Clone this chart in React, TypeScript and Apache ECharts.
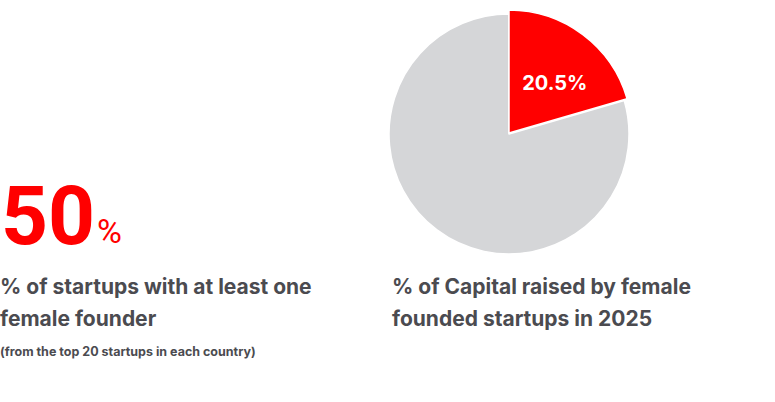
import React, { useEffect, useRef } from "react";
import * as echarts from "echarts";

const sliceNames = ["Female founded", "Other"];
const sliceValues = [20.5, 79.5];
const sliceColors = ["#ff0000", "#d5d6d8"];
const statValue = "50";
const statUnit = "%";
const leftTitleLines = ["% of startups with at least one", "female founder"];
const leftNote = "(from the top 20 startups in each country)";
const rightTitleLines = ["% of Capital raised by female", "founded startups in 2025"];

const FONT = "Inter, Roboto, sans-serif";
const BIG_FONT = "Roboto, Inter, sans-serif";
const TEXT_COLOR = "#4b4b50";

export default function App() {
  const ref = useRef<HTMLDivElement>(null);
  useEffect(() => {
    document.body.style.margin = "0";
    const chart = echarts.init(ref.current!, null, { renderer: "svg" });
    const data = sliceNames.map((n, i) => ({ name: n, value: sliceValues[i] }));
    chart.setOption({
      animation: false,
      backgroundColor: "#ffffff",
      series: [
        {
          type: "pie",
          center: [509, 134],
          radius: [0, 120],
          startAngle: 90,
          clockwise: true,
          silent: true,
          label: { show: false },
          labelLine: { show: false },
          itemStyle: { borderColor: "#ffffff", borderWidth: 1.5 },
          data: data.map((d, i) => ({ ...d, itemStyle: { color: sliceColors[i] } })),
        },
        {
          type: "pie",
          center: [509, 133],
          radius: [0, 123],
          startAngle: 90,
          clockwise: true,
          silent: true,
          label: { show: false },
          labelLine: { show: false },
          itemStyle: { borderColor: "#ffffff", borderWidth: 1.5 },
          data: data.map((d, i) => ({
            ...d,
            itemStyle:
              i === 0
                ? { color: sliceColors[0] }
                : { color: "rgba(0,0,0,0)", borderColor: "rgba(0,0,0,0)" },
          })),
        },
        {
          type: "pie",
          center: [509, 134],
          radius: [18, 122],
          startAngle: 90,
          clockwise: true,
          silent: true,
          labelLine: { show: false },
          itemStyle: { color: "rgba(0,0,0,0)" },
          data: data.map((d, i) => ({
            ...d,
            label:
              i === 0
                ? {
                    show: true,
                    position: "inside",
                    offset: [2, 7],
                    formatter: (p: any) => p.value + "%",
                    color: "#ffffff",
                    fontFamily: FONT,
                    fontWeight: "bold",
                    fontSize: 20,
                  }
                : { show: false },
          })),
        },
      ],
      graphic: [
        {
          type: "text",
          left: 1,
          top: 175,
          style: {
            text: statValue,
            fill: "#ff0000",
            font: `bold 82px ${BIG_FONT}`,
          },
        },
        {
          type: "text",
          left: 97,
          top: 214,
          style: {
            text: statUnit,
            fill: "#ff0000",
            font: `normal 34px ${BIG_FONT}`,
          },
        },
        ...leftTitleLines.map((t, i) => ({
          type: "text",
          left: 0,
          top: 276 + i * 32,
          style: { text: t, fill: TEXT_COLOR, font: `bold 21px ${FONT}` },
        })),
        {
          type: "text",
          left: 0,
          top: 345,
          style: { text: leftNote, fill: TEXT_COLOR, font: `bold 12.5px ${FONT}` },
        },
        ...rightTitleLines.map((t, i) => ({
          type: "text",
          left: 392,
          top: 276 + i * 32,
          style: { text: t, fill: TEXT_COLOR, font: `bold 21px ${FONT}` },
        })),
      ],
    });
    return () => chart.dispose();
  }, []);
  return <div ref={ref} style={{ width: 775, height: 402 }} />;
}
